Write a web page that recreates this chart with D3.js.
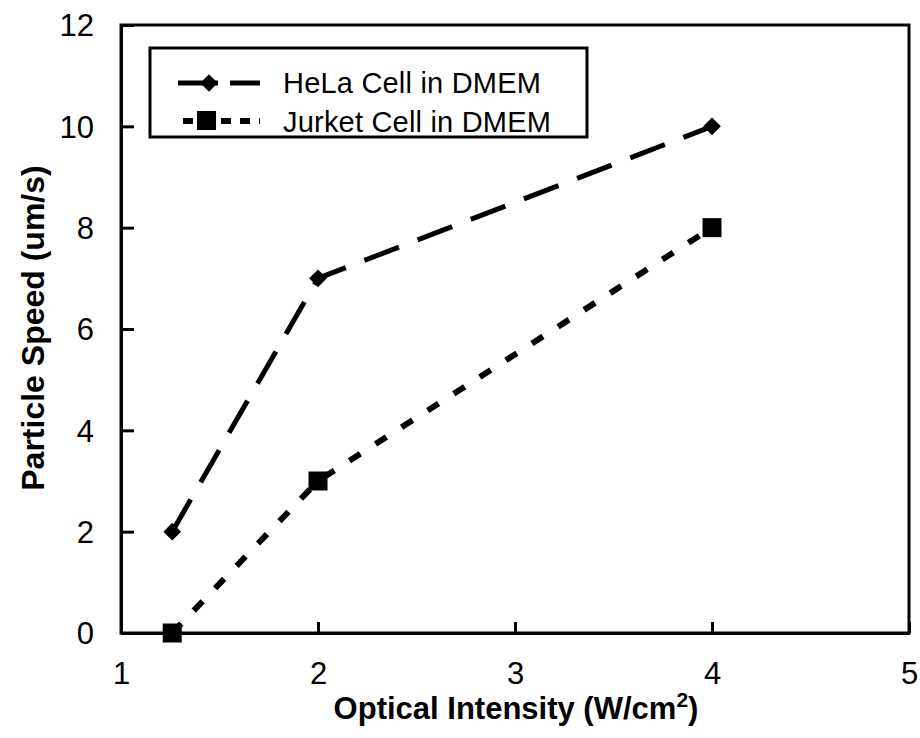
<!DOCTYPE html>
<html>
<head>
<meta charset="utf-8">
<script src="https://cdn.jsdelivr.net/npm/d3@7"></script>
<style>
  body { margin: 0; background: #fff; }
  text { font-family: "Liberation Sans", Arial, sans-serif; }
</style>
</head>
<body>
<div id="chart"></div>
<script>
// Data
const intensity = [1.26, 2, 4];
const helaSpeed = [2, 7, 10];
const jurketSpeed = [0, 3, 8];
const seriesNames = ["HeLa Cell in DMEM", "Jurket Cell in DMEM"];
const xTicks = [1, 2, 3, 4, 5];
const yTicks = [0, 2, 4, 6, 8, 10, 12];

const margin = { top: 25, right: 11, bottom: 105, left: 121 },
    width = 920 - margin.left - margin.right,
    height = 738 - margin.top - margin.bottom;

const svg = d3.select("#chart")
  .append("svg")
  .attr("width", 920)
  .attr("height", 738);

const g = svg.append("g")
  .attr("transform", `translate(${margin.left},${margin.top})`);

const x = d3.scaleLinear().domain([1, 5]).range([0, width]);
const y = d3.scaleLinear().domain([0, 12]).range([height, 0]);

// plot frame
g.append("rect")
  .attr("width", width)
  .attr("height", height)
  .attr("fill", "none")
  .attr("stroke", "#000")
  .attr("stroke-width", 3);

// X axis (ticks inside)
const xAxis = g.append("g")
  .attr("transform", `translate(0,${height})`)
  .call(d3.axisBottom(x).tickValues(xTicks).tickFormat(d3.format("d"))
    .tickSizeInner(-11).tickSizeOuter(0).tickPadding(29));

// Y axis
const yAxis = g.append("g")
  .call(d3.axisLeft(y).tickValues(yTicks).tickFormat(d3.format("d"))
    .tickSizeInner(-13).tickSizeOuter(0).tickPadding(27));

[xAxis, yAxis].forEach(a => {
  a.select(".domain").attr("stroke-width", 3);
  a.selectAll(".tick line").attr("stroke-width", 3);
  a.selectAll(".tick text")
    .attr("font-size", 31)
    .attr("font-family", "Liberation Sans, Arial, sans-serif")
    .attr("fill", "#000");
});
yAxis.selectAll(".tick text").attr("dy", "0.35em");

// Lines
const line = d3.line()
  .x(d => x(d[0]))
  .y(d => y(d[1]));

const hela = intensity.map((v, i) => [v, helaSpeed[i]]);
const jurket = intensity.map((v, i) => [v, jurketSpeed[i]]);

g.append("path")
  .datum(hela)
  .attr("fill", "none")
  .attr("stroke", "#000")
  .attr("stroke-width", 5)
  .attr("stroke-dasharray", "37,20")
  .attr("d", line);

g.append("path")
  .datum(jurket)
  .attr("fill", "none")
  .attr("stroke", "#000")
  .attr("stroke-width", 6)
  .attr("stroke-dasharray", "13,18")
  .attr("d", line);

const diamond = d3.symbol().type(d3.symbolDiamond2).size(200);

g.selectAll(".hela-pt")
  .data(hela)
  .join("path")
  .attr("transform", d => `translate(${x(d[0])},${y(d[1])})`)
  .attr("d", diamond)
  .attr("fill", "#000");

g.selectAll(".jurket-pt")
  .data(jurket)
  .join("rect")
  .attr("x", d => x(d[0]) - 9.5)
  .attr("y", d => y(d[1]) - 9.5)
  .attr("width", 19)
  .attr("height", 19)
  .attr("fill", "#000");

// Legend
const legend = svg.append("g");
legend.append("rect")
  .attr("x", 150).attr("y", 48)
  .attr("width", 437).attr("height", 89)
  .attr("fill", "#fff")
  .attr("stroke", "#000")
  .attr("stroke-width", 3);

legend.append("line")
  .attr("x1", 178).attr("x2", 260).attr("y1", 83).attr("y2", 83)
  .attr("stroke", "#000").attr("stroke-width", 5)
  .attr("stroke-dasharray", "40,12");
legend.append("path")
  .attr("transform", "translate(209,83)")
  .attr("d", diamond)
  .attr("fill", "#000");

legend.append("line")
  .attr("x1", 183).attr("x2", 260).attr("y1", 121).attr("y2", 121)
  .attr("stroke", "#000").attr("stroke-width", 6)
  .attr("stroke-dasharray", "10,9");
legend.append("rect")
  .attr("x", 197).attr("y", 111).attr("width", 19).attr("height", 19)
  .attr("fill", "#000");

legend.selectAll(".lt")
  .data(seriesNames)
  .join("text")
  .attr("x", 283)
  .attr("y", (d, i) => 93 + i * 39)
  .attr("font-size", 29)
  .attr("letter-spacing", 0.2)
  .attr("fill", "#000")
  .text(d => d);

// Axis titles
const xt = svg.append("text")
  .attr("x", 516)
  .attr("y", 719)
  .attr("text-anchor", "middle")
  .attr("font-size", 31)
  .attr("font-weight", "bold")
  .attr("fill", "#000");
xt.append("tspan").text("Optical Intensity (W/cm");
xt.append("tspan").attr("font-size", 21).attr("dy", -12).text("2");
xt.append("tspan").attr("dy", 12).text(")");

svg.append("text")
  .attr("transform", "translate(44,328) rotate(-90)")
  .attr("text-anchor", "middle")
  .attr("font-size", 32)
  .attr("font-weight", "bold")
  .attr("fill", "#000")
  .text("Particle Speed (um/s)");
</script>
</body>
</html>
